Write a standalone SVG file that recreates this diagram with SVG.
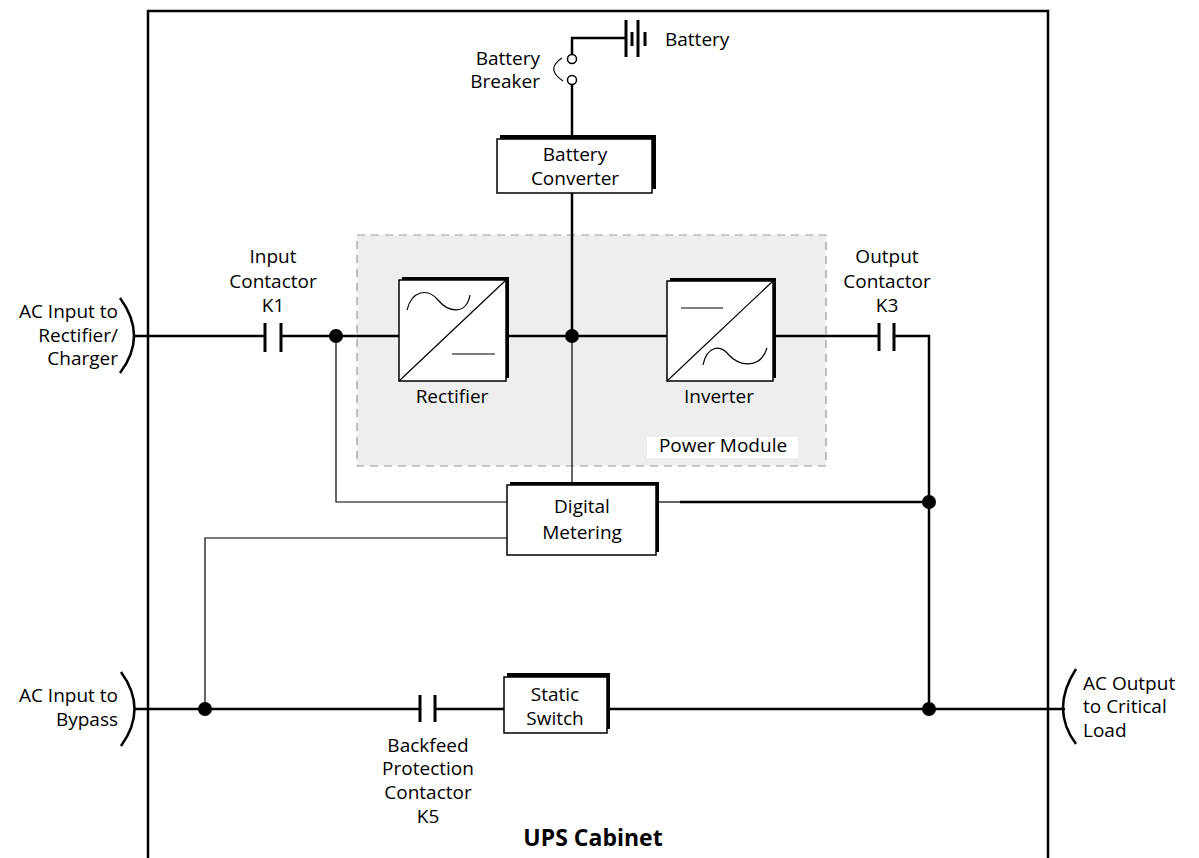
<svg xmlns="http://www.w3.org/2000/svg" width="1199" height="858" viewBox="0 0 1199 858">
<style>
text{font-family:"Open Sans","Liberation Sans",sans-serif;font-size:19px;fill:#000}
.c{text-anchor:middle}
.r{text-anchor:end}
.title{font-size:23px;font-weight:bold}
.w{stroke:#000;stroke-width:2.5;fill:none}
.t{stroke:#000;stroke-width:1.2;fill:none}
.box{fill:#fff;stroke:#000;stroke-width:1.5}
.sh{fill:#000}
.dot{fill:#000}
.pl{stroke:#000;stroke-width:3;fill:none}
</style>
<rect width="1199" height="858" fill="#fff"/>

<g id="power-module">
<rect x="357" y="235" width="469" height="231" fill="#eeeeee" stroke="#9a9a9a" stroke-width="1.2" stroke-dasharray="8,6"/>
<rect x="647" y="437" width="151" height="21" fill="#fff"/>
<text class="c" x="723" y="452">Power Module</text>
</g>

<g id="cabinet">
<path class="w" d="M148,858 V11 H1048 V858" stroke-width="2"/>
<text class="c title" x="593" y="846">UPS Cabinet</text>
</g>

<g id="connectors">
<path class="w" d="M135,336 H265"/>
<path class="w" d="M282,336 H399"/>
<path class="w" d="M509,336 H667"/>
<path class="w" d="M776,336 H879"/>
<path class="w" d="M894,336 H929 V709"/>
<path class="w" d="M572,54 V38 H626"/>
<path class="w" d="M572,84 V136"/>
<path class="w" d="M572,193 V336"/>
<path class="t" d="M572,336 V482"/>
<path class="t" d="M336,336 V502 H507"/>
<path class="t" d="M205,709 V538 H507"/>
<path class="t" d="M659,502 H680"/>
<path class="w" d="M680,502 H929"/>
<path class="w" d="M135,709 H420"/>
<path class="w" d="M435,709 H504"/>
<path class="w" d="M610,709 H1065"/>
</g>

<g id="input-bracket">
<path class="w" d="M120,298 Q148,336 120,373" stroke-width="2"/>
<text class="r" x="118" y="318">AC Input to</text>
<text class="r" x="118" y="342">Rectifier/</text>
<text class="r" x="118" y="365">Charger</text>
</g>

<g id="bypass-bracket">
<path class="w" d="M121,672 Q148,709 121,746" stroke-width="2"/>
<text class="r" x="118" y="702">AC Input to</text>
<text class="r" x="118" y="726">Bypass</text>
</g>

<g id="output-bracket">
<path class="w" d="M1076,669 Q1050,709 1076,744" stroke-width="2"/>
<text x="1083" y="690">AC Output</text>
<text x="1083" y="713">to Critical</text>
<text x="1083" y="737">Load</text>
</g>

<g id="input-contactor-k1">
<line class="pl" x1="265" y1="323" x2="265" y2="352"/>
<line class="pl" x1="281" y1="323" x2="281" y2="352"/>
<text class="c" x="273" y="263">Input</text>
<text class="c" x="273" y="288">Contactor</text>
<text class="c" x="273" y="312">K1</text>
</g>

<g id="output-contactor-k3">
<line class="pl" x1="879" y1="323" x2="879" y2="351"/>
<line class="pl" x1="894" y1="323" x2="894" y2="351"/>
<text class="c" x="887" y="263">Output</text>
<text class="c" x="887" y="288">Contactor</text>
<text class="c" x="887" y="312">K3</text>
</g>

<g id="backfeed-contactor-k5">
<line class="pl" x1="420" y1="695" x2="420" y2="722"/>
<line class="pl" x1="435" y1="695" x2="435" y2="722"/>
<text class="c" x="428" y="752">Backfeed</text>
<text class="c" x="428" y="775">Protection</text>
<text class="c" x="428" y="799">Contactor</text>
<text class="c" x="428" y="823">K5</text>
</g>

<g id="battery">
<line class="pl" x1="626" y1="20" x2="626" y2="57"/>
<line class="pl" x1="632" y1="32" x2="632" y2="46"/>
<line class="pl" x1="638" y1="20" x2="638" y2="57"/>
<line class="pl" x1="645" y1="32" x2="645" y2="46"/>
<text x="665" y="46">Battery</text>
</g>

<g id="battery-breaker">
<circle cx="572" cy="59" r="4.5" fill="#fff" stroke="#000" stroke-width="1.5"/>
<circle cx="572" cy="80" r="4.5" fill="#fff" stroke="#000" stroke-width="1.5"/>
<path class="t" d="M562,58 Q545,69 563,81" stroke-width="1.5"/>
<text class="r" x="540" y="65">Battery</text>
<text class="r" x="540" y="88">Breaker</text>
</g>

<g id="battery-converter">
<rect class="sh" x="500" y="135" width="156" height="54"/>
<rect class="box" x="497" y="139" width="155" height="54"/>
<text class="c" x="575" y="161">Battery</text>
<text class="c" x="575" y="185">Converter</text>
</g>

<g id="rectifier">
<rect class="sh" x="402" y="277" width="107" height="101"/>
<rect class="box" x="399" y="280" width="107" height="101"/>
<line class="t" x1="399" y1="381" x2="506" y2="280"/>
<path class="t" d="M407,310 C412,290 428,288 438,300 C448,312 466,316 470,295"/>
<line class="t" x1="452" y1="354" x2="495" y2="354"/>
<text class="c" x="452" y="403">Rectifier</text>
</g>

<g id="inverter">
<rect class="sh" x="670" y="278" width="106" height="100"/>
<rect class="box" x="667" y="281" width="106" height="100"/>
<line class="t" x1="667" y1="381" x2="773" y2="281"/>
<line class="t" x1="681" y1="308" x2="723" y2="308"/>
<path class="t" d="M703,365 C707,346 720,344 729,355 C738,366 760,370 767,348"/>
<text class="c" x="719" y="403">Inverter</text>
</g>

<g id="digital-metering">
<rect class="sh" x="510" y="482" width="149" height="70"/>
<rect class="box" x="507" y="485" width="149" height="70"/>
<text class="c" x="582" y="513">Digital</text>
<text class="c" x="582" y="539">Metering</text>
</g>

<g id="static-switch">
<rect class="sh" x="507" y="673" width="103" height="56"/>
<rect class="box" x="504" y="677" width="103" height="56"/>
<text class="c" x="555" y="701">Static</text>
<text class="c" x="555" y="725">Switch</text>
</g>

<g id="junctions">
<circle class="dot" cx="336" cy="336" r="7"/>
<circle class="dot" cx="572" cy="336" r="7"/>
<circle class="dot" cx="929" cy="502" r="7"/>
<circle class="dot" cx="205" cy="709" r="7"/>
<circle class="dot" cx="929" cy="709" r="7"/>
</g>
</svg>
